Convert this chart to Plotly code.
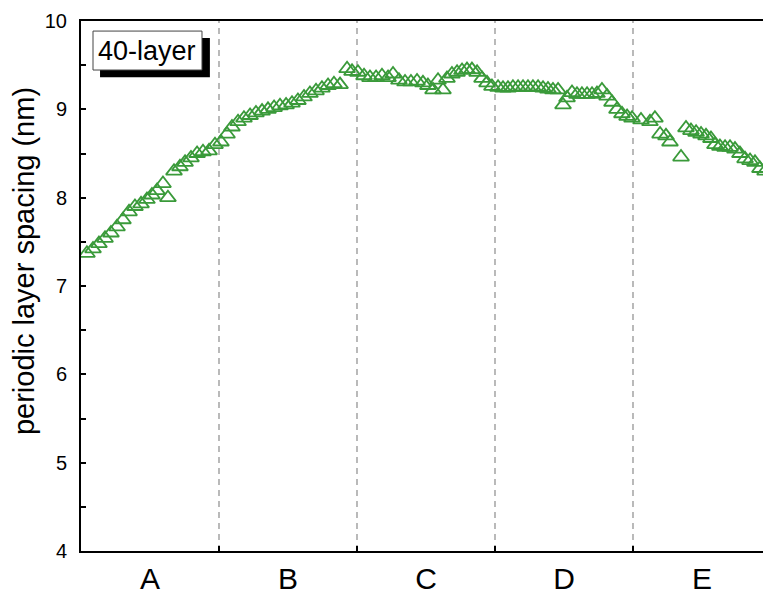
import plotly.graph_objects as go

# Periodic layer spacing (nm) along the 40-layer stack, five regions A-E.
# Positions are in region units (region A spans 0-1, B spans 1-2, ...).
regions = ["A", "B", "C", "D", "E"]

pos_a = [0.043, 0.087, 0.130, 0.174, 0.217, 0.261, 0.304, 0.348, 0.391, 0.435, 0.478, 0.514,
         0.551, 0.594, 0.630, 0.674, 0.717, 0.754, 0.797, 0.841, 0.884, 0.928, 0.971]
spc_a = [7.37, 7.42, 7.48, 7.54, 7.60, 7.67, 7.75, 7.84, 7.90, 7.93, 7.98, 8.03,
         8.08, 8.16, 8.00, 8.30, 8.35, 8.40, 8.45, 8.50, 8.52, 8.53, 8.60]

pos_b = [1.014, 1.058, 1.094, 1.138, 1.181, 1.225, 1.268, 1.312, 1.355, 1.399, 1.442, 1.486,
         1.529, 1.572, 1.616, 1.659, 1.703, 1.746, 1.790, 1.833, 1.877, 1.928, 1.964]
spc_b = [8.63, 8.72, 8.80, 8.86, 8.90, 8.93, 8.96, 8.98, 9.00, 9.02, 9.04, 9.05,
         9.07, 9.10, 9.14, 9.18, 9.21, 9.24, 9.27, 9.29, 9.28, 9.46, 9.43]

pos_c = [2.007, 2.051, 2.094, 2.138, 2.181, 2.225, 2.261, 2.304, 2.348, 2.391, 2.435, 2.478,
         2.514, 2.551, 2.587, 2.623, 2.652, 2.688, 2.725, 2.761, 2.797, 2.833, 2.870, 2.906,
         2.942, 2.978]
spc_c = [9.42, 9.38, 9.36, 9.36, 9.38, 9.36, 9.40, 9.33, 9.31, 9.31, 9.32, 9.30,
         9.27, 9.22, 9.33, 9.22, 9.35, 9.40, 9.42, 9.44, 9.45, 9.45, 9.42, 9.35,
         9.30, 9.26]

pos_d = [3.022, 3.058, 3.094, 3.130, 3.167, 3.203, 3.239, 3.275, 3.312, 3.348, 3.384, 3.420,
         3.457, 3.493, 3.522, 3.558, 3.594, 3.630, 3.667, 3.703, 3.739, 3.775, 3.812, 3.848,
         3.884, 3.920, 3.957, 3.993]
spc_d = [9.25, 9.24, 9.24, 9.25, 9.25, 9.25, 9.25, 9.25, 9.25, 9.24, 9.23, 9.22,
         9.22, 9.05, 9.13, 9.19, 9.17, 9.17, 9.17, 9.17, 9.18, 9.22, 9.15, 9.08,
         9.00, 8.95, 8.92, 8.90]

pos_e = [4.058, 4.123, 4.159, 4.196, 4.239, 4.268, 4.348, 4.384, 4.420, 4.457, 4.493, 4.529,
         4.565, 4.594, 4.630, 4.667, 4.703, 4.739, 4.775, 4.812, 4.848, 4.884, 4.920, 4.957]
spc_e = [8.88, 8.86, 8.90, 8.72, 8.70, 8.63, 8.46, 8.79, 8.76, 8.74, 8.72, 8.70,
         8.67, 8.60, 8.58, 8.57, 8.57, 8.55, 8.50, 8.44, 8.42, 8.40, 8.33, 8.30]

y_ticks = [4, 5, 6, 7, 8, 9, 10]
sample_label = "40-layer"
y_title = "periodic layer spacing (nm)"

GREEN = "#3a9a3a"
FONT = "Liberation Sans, Arial, sans-serif"

x_all = pos_a + pos_b + pos_c + pos_d + pos_e
y_all = spc_a + spc_b + spc_c + spc_d + spc_e

fig = go.Figure()
fig.add_trace(go.Scatter(
    x=x_all, y=y_all, mode="markers",
    marker=dict(symbol="triangle-up-open", size=14, color=GREEN,
                line=dict(width=1.8, color=GREEN)),
    showlegend=False,
))

shapes = []
# dashed region boundaries
for b in range(1, len(regions)):
    shapes.append(dict(type="line", xref="x", yref="paper", x0=b, x1=b, y0=0, y1=1,
                       line=dict(color="#8c8c8c", width=1.2, dash="6px,5px"), layer="below"))
# label box with drop shadow
shapes.append(dict(type="rect", xref="paper", yref="paper",
                   x0=0.0279, x1=0.189, y0=0.894, y1=0.968,
                   fillcolor="black", line=dict(width=0)))
shapes.append(dict(type="rect", xref="paper", yref="paper",
                   x0=0.0176, x1=0.1774, y0=0.9075, y1=0.981,
                   fillcolor="white", line=dict(color="#444", width=1)))

fig.update_layout(
    width=763, height=598,
    margin=dict(l=81, r=0, t=21, b=47),
    paper_bgcolor="white", plot_bgcolor="white",
    font=dict(family=FONT, color="black"),
    shapes=shapes,
    annotations=[
        dict(text=sample_label, xref="paper", yref="paper",
             x=0.0975, y=0.944, xanchor="center", yanchor="middle", showarrow=False,
             font=dict(size=27, family=FONT, color="black")),
        dict(text=y_title, xref="paper", yref="paper", textangle=-90,
             x=-0.0836, y=0.547, xanchor="center", yanchor="middle", showarrow=False,
             font=dict(size=29, family=FONT, color="black")),
    ],
)

fig.update_xaxes(
    range=[0, 682 / 138], showgrid=False, zeroline=False,
    showline=True, linecolor="black", linewidth=2, mirror=True,
    tickmode="array", tickvals=[i + 0.5 for i in range(len(regions))], ticktext=regions,
    ticks="", tickfont=dict(size=30, family=FONT),
    minor=dict(tickmode="array", tickvals=list(range(1, len(regions))),
               ticks="inside", ticklen=5, tickwidth=1.5, tickcolor="black"),
)
fig.update_yaxes(
    range=[4, 10], showgrid=False, zeroline=False,
    showline=True, linecolor="black", linewidth=2,
    tickmode="array", tickvals=y_ticks,
    ticks="inside", ticklen=5, tickwidth=1.5, tickcolor="black",
    tickfont=dict(size=20, family=FONT), ticklabelstandoff=8,
    minor=dict(dtick=0.5, ticks="inside", ticklen=5, tickwidth=1.5, tickcolor="black"),
)

fig.write_html("out.html")
